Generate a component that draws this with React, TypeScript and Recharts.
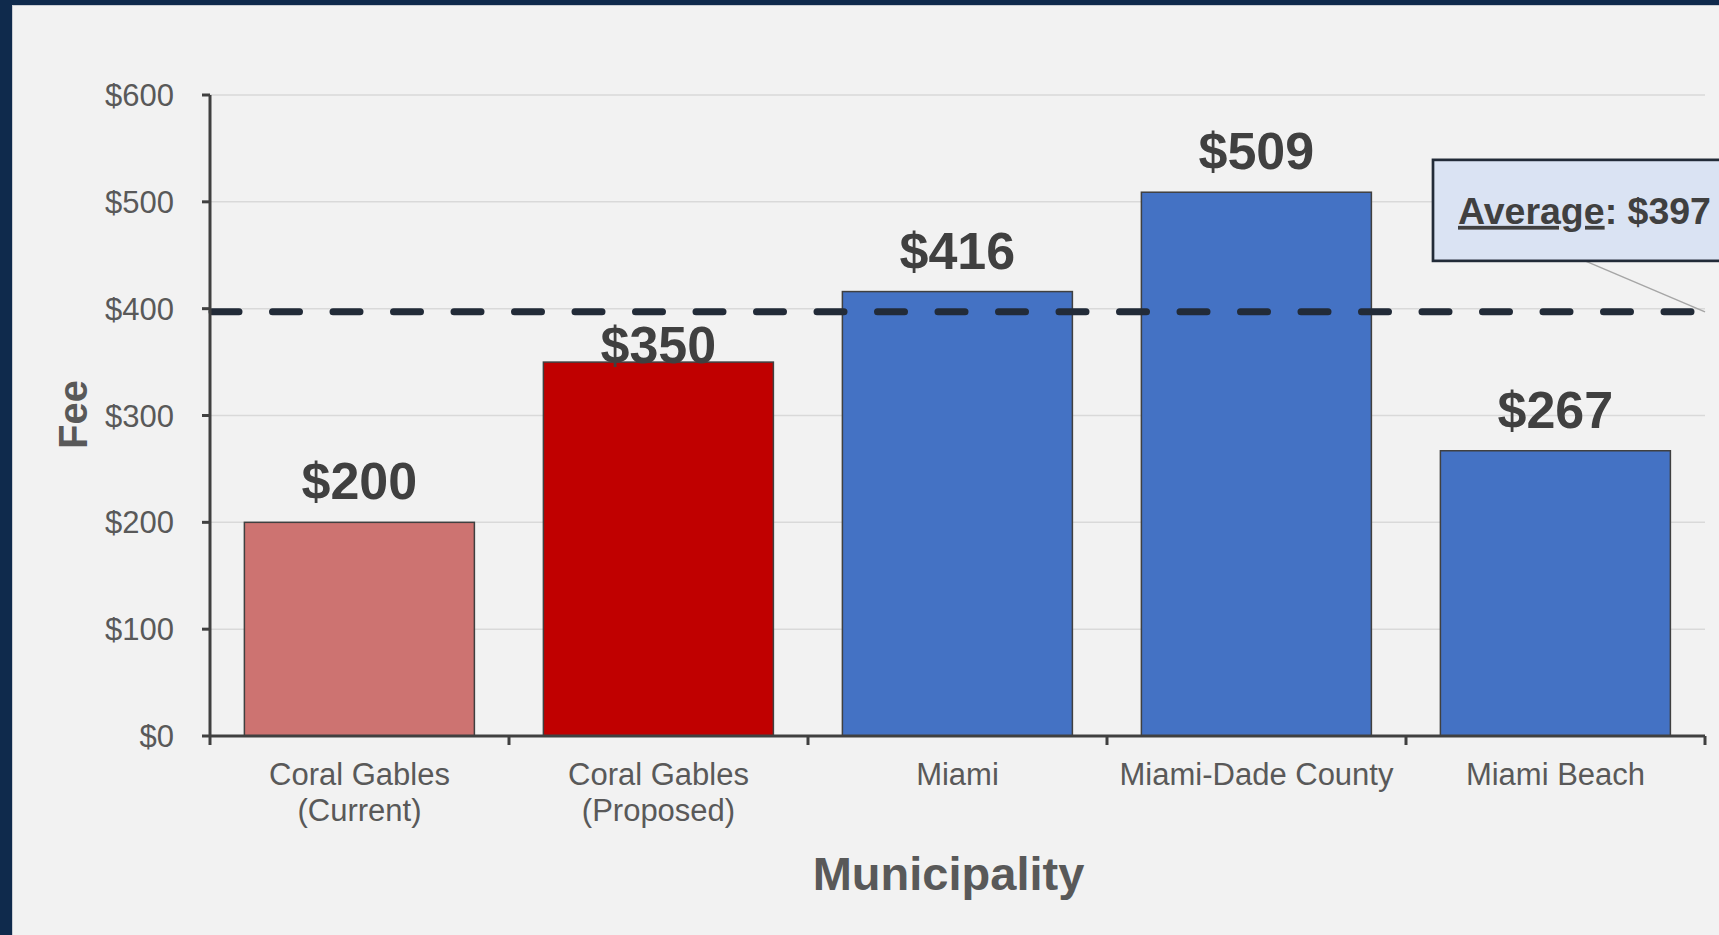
import React from "react";
import { BarChart, Bar, XAxis, YAxis, CartesianGrid, ReferenceLine } from "recharts";

const categories = [
  "Coral Gables\n(Current)",
  "Coral Gables\n(Proposed)",
  "Miami",
  "Miami-Dade County",
  "Miami Beach",
];
const fees = [200, 350, 416, 509, 267];
const yTicks = [0, 100, 200, 300, 400, 500, 600];
const AVERAGE_FEE = 397;

const barColors = ["#CD7371", "#C00000", "#4472C4", "#4472C4", "#4472C4"];

const data = categories.map((name, i) => ({ name, fee: fees[i] }));

const W = 1719;
const H = 935;
const Y_AXIS_W = 210;
const X_AXIS_H = 199;
const MARGIN = { top: 95, right: 14, bottom: 0, left: 0 };
const BAND = (W - Y_AXIS_W - MARGIN.right) / categories.length;

const FONT = "'Liberation Sans', Arial, sans-serif";
const AXIS = "#404040";
const TEXT_GREY = "#595959";
const LINE_NAVY = "#222b38";

// the proposed label sits under the average line, like the original
const labelLift = (i: number) => (i === 1 ? -1 : 23);

function BarWithLabel(props: any) {
  const { x, y, width, height, index, payload } = props;
  return (
    <g>
      <rect x={x} y={y} width={width} height={height} fill={barColors[index]} stroke={AXIS} strokeWidth={1.5} />
      <text
        x={x + width / 2}
        y={y - labelLift(index)}
        textAnchor="middle"
        fontFamily={FONT}
        fontWeight="bold"
        fontSize={52}
        fill="#404040"
      >
        ${payload.fee}
      </text>
    </g>
  );
}

function CategoryTick(props: any) {
  const { x, y, payload, index } = props;
  const lines = String(payload.value).split("\n");
  const axisY = y - 27;
  return (
    <g>
      {index === 0 && (
        <line x1={x - BAND / 2} x2={x - BAND / 2} y1={axisY} y2={axisY + 9} stroke={AXIS} strokeWidth={3} />
      )}
      <line x1={x + BAND / 2} x2={x + BAND / 2} y1={axisY} y2={axisY + 9} stroke={AXIS} strokeWidth={3} />
      <text x={x} y={y} textAnchor="middle" fontFamily={FONT} fontSize={31} fill={TEXT_GREY}>
        {lines.map((l, i) => (
          <tspan key={i} x={x} dy={i === 0 ? "0.71em" : 36}>
            {l}
          </tspan>
        ))}
      </text>
    </g>
  );
}

function XTitle(props: any) {
  const vb = props.viewBox;
  return (
    <text
      x={vb.x + vb.width / 2 - 9}
      y={vb.y + 154}
      textAnchor="middle"
      fontFamily={FONT}
      fontWeight="bold"
      fontSize={47}
      fill={TEXT_GREY}
    >
      Municipality
    </text>
  );
}

function YTitle(props: any) {
  const vb = props.viewBox;
  const cy = vb.y + vb.height / 2 - 1;
  return (
    <text
      transform={`translate(87, ${cy}) rotate(-90)`}
      textAnchor="middle"
      fontFamily={FONT}
      fontWeight="bold"
      fontSize={40}
      fill={TEXT_GREY}
    >
      Fee
    </text>
  );
}

function AverageCallout(props: any) {
  const vb = props.viewBox;
  const right = vb.x + vb.width;
  const lineY = vb.y;
  const top = lineY - 152;
  return (
    <g>
      <line x1={right - 120} y1={top + 101} x2={right} y2={lineY} stroke="#a6a6a6" strokeWidth={1.5} />
      <rect x={right - 272} y={top} width={330} height={101} fill="#DAE3F3" stroke={LINE_NAVY} strokeWidth={2.7} />
      <text x={right - 247} y={lineY - 88} fontFamily={FONT} fontWeight="bold" fontSize={37.5} fill="#404040">
        <tspan style={{ textDecoration: "underline" }}>Average</tspan>
        <tspan>: ${AVERAGE_FEE}</tspan>
      </text>
    </g>
  );
}

export default function App() {
  return (
    <div style={{ position: "absolute", left: 0, top: 0, width: W, height: H, background: "#0f2a4c", overflow: "hidden" }}>
      <div
        style={{
          position: "absolute",
          left: 12,
          top: 5,
          right: 0,
          bottom: 0,
          background: "#f2f2f2",
          borderLeft: "1px solid #c9cdd3",
          borderTop: "1px solid #c9cdd3",
        }}
      />
      <div style={{ position: "absolute", left: 0, top: 0 }}>
        <BarChart width={W} height={H} data={data} margin={MARGIN} barCategoryGap="11.5%">
          <CartesianGrid vertical={false} stroke="#d9d9d9" strokeWidth={1.5} />
          <XAxis
            dataKey="name"
            height={X_AXIS_H}
            interval={0}
            axisLine={{ stroke: AXIS, strokeWidth: 3 }}
            tickLine={false}
            tickSize={0}
            tickMargin={27}
            tick={<CategoryTick />}
            label={<XTitle />}
          />
          <YAxis
            domain={[0, 600]}
            ticks={yTicks}
            width={Y_AXIS_W}
            tickSize={8}
            tickMargin={28}
            axisLine={{ stroke: AXIS, strokeWidth: 3 }}
            tickLine={{ stroke: AXIS, strokeWidth: 3 }}
            tick={{ fill: TEXT_GREY, fontSize: 31, fontFamily: FONT }}
            tickFormatter={(v: number) => `$${v}`}
            label={<YTitle />}
          />
          <Bar dataKey="fee" shape={<BarWithLabel />} isAnimationActive={false} />
          <ReferenceLine
            y={AVERAGE_FEE}
            stroke={LINE_NAVY}
            strokeWidth={7}
            strokeDasharray="27 33.5"
            strokeDashoffset={-2}
            strokeLinecap="round"
            label={<AverageCallout />}
          />
        </BarChart>
      </div>
    </div>
  );
}
